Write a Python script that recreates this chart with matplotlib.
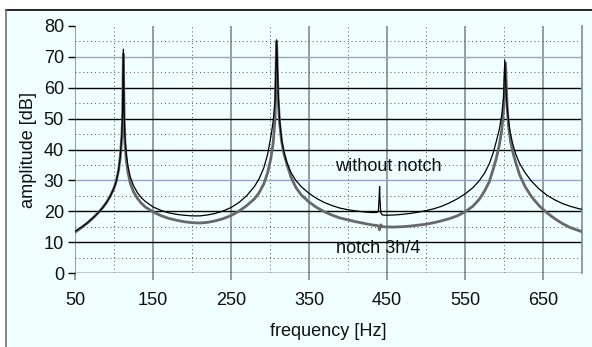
import matplotlib
matplotlib.use("Agg")
import matplotlib.pyplot as plt
from matplotlib.patches import Rectangle
from matplotlib.lines import Line2D

plt.rcParams['font.family'] = ['Liberation Sans', 'DejaVu Sans']

# spectrum without notch (frequency in Hz, amplitude in dB)
freq_plain = [50, 55, 60, 65, 70, 75, 80, 85, 90, 95, 100, 103, 106, 108, 110, 111, 112, 113,
              114, 116, 118, 121, 125, 130, 135, 140, 150, 160, 170, 180, 190, 200, 210, 220,
              230, 240, 250, 260, 270, 280, 286, 292, 297, 301, 304, 306.5, 308.5, 310.5,
              312.5, 315, 318, 322, 327, 333, 340, 350, 360, 370, 380, 390, 400, 410, 420,
              430, 437, 439, 440, 440.5, 441, 442, 444, 450, 460, 470, 480, 490, 500, 510,
              520, 530, 540, 550, 560, 568, 575, 581, 586, 590, 594, 597, 599.5, 601, 603,
              605.5, 608, 611, 615, 620, 627, 635, 645, 655, 665, 675, 685, 695, 700]
amp_plain = [13.5, 14.3, 15.2, 16.1, 17.2, 18.3, 19.6, 21, 22.7, 24.8, 27.5, 29.8, 33.5, 37.5,
             45, 52, 72.5, 52, 44, 38, 34.5, 31, 28.3, 26, 24.4, 23.2, 21.4, 20.3, 19.5, 19,
             18.7, 18.5, 18.5, 18.8, 19.3, 20.1, 21.2, 22.8, 25, 28, 30.5, 34, 38.5, 44, 49,
             56, 75.5, 58, 49, 43, 39, 35.5, 32.5, 30, 28, 25.8, 24.1, 22.8, 21.8, 21, 20.5,
             20.1, 19.8, 19.6, 19.6, 20, 25, 28, 24, 19.5, 18.8, 18.7, 18.8, 19, 19.3, 19.7,
             20.2, 20.8, 21.6, 22.7, 24, 25.6, 27.6, 29.8, 32.3, 35.3, 38.8, 42.5, 46.5, 51,
             57, 69, 57, 50, 45.5, 42, 38.5, 35.5, 32.5, 29.8, 27.2, 25.2, 23.7, 22.5, 21.6,
             20.9, 20.6]

# spectrum with notch 3h/4
freq_notch = [50, 55, 60, 65, 70, 75, 80, 85, 90, 95, 100, 103, 106, 108, 110, 111, 112, 113,
              114, 116, 118, 121, 125, 130, 135, 140, 150, 160, 170, 180, 190, 200, 210, 220,
              230, 240, 250, 260, 270, 280, 286, 292, 297, 301, 304, 306.5, 308.5, 310.5,
              312.5, 315, 318, 322, 327, 333, 340, 350, 360, 370, 380, 390, 400, 410, 420,
              430, 437, 439, 440.5, 442, 444, 450, 460, 470, 480, 490, 500, 510, 520, 530,
              540, 550, 560, 568, 575, 581, 586, 590, 594, 597, 599.5, 602, 604, 606, 608.5,
              612, 616, 620, 627, 635, 645, 655, 665, 675, 685, 695, 700]
amp_notch = [13.2, 14.1, 15, 16, 17.1, 18.3, 19.6, 21, 22.7, 24.8, 27.5, 29.8, 33.5, 37.5,
             44, 50, 71, 50, 42, 36, 32.5, 29, 26.3, 24.2, 22.6, 21.4, 19.8, 18.6, 17.7, 17.1,
             16.6, 16.3, 16.2, 16.4, 16.9, 17.6, 18.6, 20, 21.8, 24, 26, 28.8, 32.5, 37, 42,
             50, 75, 56, 48, 42.5, 38.5, 35, 31, 27.8, 25.3, 23, 21.2, 19.8, 18.7, 17.8, 17.2,
             16.6, 16.1, 15.6, 15.4, 15.2, 14, 15.6, 15, 14.9, 14.9, 15, 15.2, 15.5, 15.8,
             16.3, 16.9, 17.6, 18.5, 19.8, 21.6, 23.8, 26.5, 29.5, 33.5, 37, 41.5, 46, 53, 68,
             54, 47, 42.5, 38.5, 35, 31.8, 28, 24.8, 21.8, 19.5, 17.6, 16, 14.7, 13.8, 13.4]

x_ticks = [50, 150, 250, 350, 450, 550, 650]
y_ticks = [0, 10, 20, 30, 40, 50, 60, 70, 80]

bg = '#f0ffff'
fs = 13.1
W, H = 592, 347
fig = plt.figure(figsize=(W / 100, H / 100), dpi=100)
fig.patch.set_facecolor('white')

# chart area box (left/top border only, the rest is cut off)
fig.patches.append(Rectangle((6 / W, 0), 1, (H - 10) / H, transform=fig.transFigure,
                             facecolor=bg, edgecolor='none', zorder=-1))
fig.lines.append(Line2D([6 / W, 1], [(H - 10) / H] * 2, transform=fig.transFigure,
                        color='black', lw=1.2))
fig.lines.append(Line2D([6 / W] * 2, [0, (H - 10) / H], transform=fig.transFigure,
                        color='#707070', lw=1.2))

ax = fig.add_axes([75 / W, (H - 273) / H, (582 - 75) / W, (273 - 26) / H])
ax.set_facecolor(bg)

ax.plot(freq_notch, amp_notch, color='#686868', lw=2.0, zorder=3)
ax.plot(freq_plain, amp_plain, color='black', lw=0.9, zorder=4)

ax.set_xlim(50, 700)
ax.set_ylim(0, 80)
ax.set_xticks(x_ticks)
ax.set_xticks(range(100, 701, 100), minor=True)
ax.set_yticks(y_ticks)
ax.set_yticks(range(5, 80, 10), minor=True)

ax.grid(True, which='major', axis='y', color='black', lw=1.0)
ax.grid(True, which='minor', axis='y', color='#555555', lw=0.7, linestyle=(0, (1, 3)))
ax.grid(True, which='major', axis='x', color='#8a949e', lw=1.3)
ax.grid(True, which='minor', axis='x', color='#555555', lw=0.7, linestyle=(0, (1, 3)))
ygl = ax.get_ygridlines()
ygl[-1].set_visible(False)
for i in (3, 7):
    ygl[i].set_color('#98a4c0')

for s in ('top', 'left', 'bottom'):
    ax.spines[s].set_visible(False)
ax.spines['right'].set_color('#8a949e')
ax.spines['right'].set_linewidth(1.3)

ax.tick_params(axis='x', which='major', length=5, color='#8a949e', width=1.3, pad=9,
               labelsize=fs, labelcolor='#111111')
ax.tick_params(axis='y', which='major', length=5, color='black', width=1.0, pad=3,
               labelsize=fs, labelcolor='#111111')
ax.tick_params(which='minor', length=0)

ax.set_xlabel('frequency [Hz]', fontsize=fs, color='#111111', labelpad=10)
ax.set_ylabel('amplitude [dB]', fontsize=fs, color='#111111', labelpad=5)

ax.text(383, 34.6, 'without notch', fontsize=fs, color='#111111', va='center', ha='left')
ax.text(385, 8.0, 'notch 3h/4', fontsize=fs, color='#111111', va='center', ha='left')

fig.savefig('out.png', dpi=100, facecolor='white')
